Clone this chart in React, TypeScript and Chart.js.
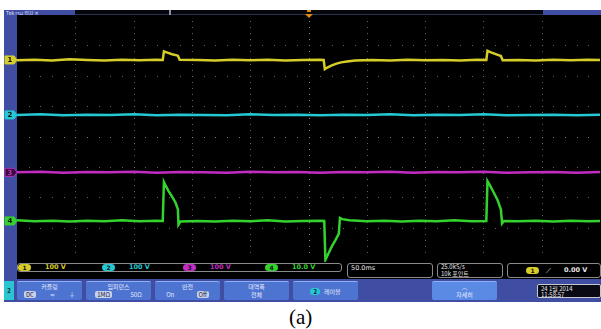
import React, { useEffect, useRef } from 'react';
import { Chart, registerables } from 'chart.js';

Chart.register(...registerables);

// ---- Data (time in divisions 0..10, voltage in divisions, centre = 0) ----
const ch1Time = [0, 0.3, 0.6, 0.9, 1.2, 1.5, 1.8, 2.1, 2.4, 2.5, 2.52, 2.58, 2.66, 2.74, 2.76, 2.79, 3.1, 3.4, 3.7, 4.0, 4.3, 4.6, 4.9, 5.2, 5.26, 5.28, 5.33, 5.4, 5.48, 5.56, 5.66, 5.8, 6.1, 6.4, 6.7, 7.0, 7.3, 7.6, 7.9, 8.05, 8.07, 8.13, 8.2, 8.27, 8.3, 8.33, 8.6, 8.9, 9.2, 9.5, 9.8, 10];
const ch1Volts = [2.51, 2.53, 2.5, 2.54, 2.52, 2.5, 2.53, 2.51, 2.53, 2.52, 2.8, 2.76, 2.71, 2.67, 2.66, 2.53, 2.52, 2.5, 2.53, 2.51, 2.53, 2.5, 2.52, 2.53, 2.52, 2.22, 2.28, 2.34, 2.4, 2.44, 2.47, 2.5, 2.52, 2.5, 2.53, 2.51, 2.52, 2.5, 2.53, 2.52, 2.82, 2.77, 2.72, 2.67, 2.65, 2.51, 2.52, 2.5, 2.53, 2.51, 2.53, 2.52];

const ch2Time = [0, 0.4, 0.8, 1.2, 1.6, 2.0, 2.4, 2.8, 3.2, 3.6, 4.0, 4.4, 4.8, 5.2, 5.6, 6.0, 6.4, 6.8, 7.2, 7.6, 8.0, 8.4, 8.8, 9.2, 9.6, 10];
const ch2Volts = [0.71, 0.73, 0.7, 0.72, 0.71, 0.73, 0.7, 0.72, 0.71, 0.7, 0.73, 0.71, 0.72, 0.7, 0.72, 0.71, 0.73, 0.7, 0.72, 0.71, 0.73, 0.7, 0.71, 0.72, 0.7, 0.72];

const ch3Time = [0, 0.4, 0.8, 1.2, 1.6, 2.0, 2.4, 2.8, 3.2, 3.6, 4.0, 4.4, 4.8, 5.2, 5.6, 6.0, 6.4, 6.8, 7.2, 7.6, 8.0, 8.4, 8.8, 9.2, 9.6, 10];
const ch3Volts = [-1.18, -1.16, -1.19, -1.17, -1.18, -1.16, -1.19, -1.17, -1.18, -1.19, -1.16, -1.18, -1.17, -1.19, -1.17, -1.18, -1.16, -1.19, -1.17, -1.18, -1.16, -1.19, -1.18, -1.17, -1.19, -1.17];

const ch4Time = [0, 0.3, 0.6, 0.9, 1.2, 1.5, 1.8, 2.1, 2.4, 2.5, 2.52, 2.55, 2.6, 2.66, 2.72, 2.76, 2.77, 2.8, 3.1, 3.4, 3.7, 4.0, 4.3, 4.6, 4.9, 5.2, 5.27, 5.29, 5.33, 5.4, 5.46, 5.52, 5.54, 5.58, 5.7, 6.0, 6.3, 6.6, 6.9, 7.2, 7.5, 7.8, 8.05, 8.07, 8.11, 8.17, 8.24, 8.3, 8.32, 8.35, 8.6, 8.9, 9.2, 9.5, 9.8, 10];
const ch4Volts = [-2.76, -2.79, -2.77, -2.8, -2.77, -2.79, -2.76, -2.79, -2.77, -2.78, -1.5, -1.62, -1.8, -1.98, -2.18, -2.4, -2.9, -2.8, -2.78, -2.8, -2.77, -2.79, -2.76, -2.8, -2.78, -2.77, -2.78, -4.06, -3.9, -3.62, -3.42, -3.2, -2.68, -2.72, -2.76, -2.79, -2.77, -2.8, -2.77, -2.79, -2.76, -2.79, -2.78, -1.47, -1.6, -1.82, -2.08, -2.4, -2.86, -2.78, -2.79, -2.77, -2.8, -2.77, -2.79, -2.78];

const channelNames = ['1', '2', '3', '4'];
const channelOffsets = [2.52, 0.71, -1.18, -2.78];
const channelColors = ['#d6cd28', '#25c8d2', '#c22cc2', '#34d22e'];
const channelScales = ['100 V', '100 V', '100 V', '10.0 V'];
const timeDivLabel = '50.0ms';
const sampleRateLabel = '25.0kS/s';
const recordLabel = '10k 포인트';
const triggerLevelLabel = '0.00 V';
const dateLabel = '24 1월 2014';
const clockLabel = '11:58:57';

const FRAME = '#3f4da3';
const BTN = '#4d74d0';
const UI_FONT = '"Noto Sans CJK KR", "DejaVu Sans", sans-serif';

// dotted oscilloscope graticule drawn from the scales' ticks
const graticulePlugin = {
  id: 'graticule',
  beforeDatasetsDraw(chart: any) {
    const ctx = chart.ctx;
    const xs = chart.scales.x;
    const ys = chart.scales.y;
    const xTicks = xs.ticks.map((t: any) => t.value);
    const yTicks = ys.ticks.map((t: any) => t.value);
    const sub = 5;
    ctx.save();
    xTicks.forEach((xv: number) => {
      if (xv === xs.min || xv === xs.max) return;
      const px = Math.round(xs.getPixelForValue(xv));
      const center = xv === (xs.min + xs.max) / 2;
      ctx.fillStyle = center ? 'rgba(170,170,150,0.85)' : 'rgba(115,115,115,0.85)';
      for (let k = 1; k < (ys.max - ys.min) * sub; k++) {
        const py = Math.round(ys.getPixelForValue(ys.min + k / sub));
        ctx.fillRect(px, py, 1, 1);
      }
    });
    yTicks.forEach((yv: number) => {
      if (yv === ys.min || yv === ys.max) return;
      const py = Math.round(ys.getPixelForValue(yv));
      const center = yv === (ys.min + ys.max) / 2;
      ctx.fillStyle = center ? 'rgba(150,150,140,0.85)' : 'rgba(115,115,115,0.85)';
      for (let k = 1; k < (xs.max - xs.min) * sub; k++) {
        const px = Math.round(xs.getPixelForValue(xs.min + k / sub));
        ctx.fillRect(px, py, 1, 1);
      }
    });
    ctx.restore();
  },
};

const tagPlugin = {
  id: 'channelTags',
  afterDraw(chart: any) {
    const ctx = chart.ctx;
    const y = chart.scales.y;
    const left = chart.chartArea.left;
    channelOffsets.forEach((off, i) => {
      const py = y.getPixelForValue(off);
      ctx.save();
      ctx.beginPath();
      ctx.moveTo(left - 12, py - 4);
      ctx.lineTo(left - 3, py - 4);
      ctx.lineTo(left, py);
      ctx.lineTo(left - 3, py + 4);
      ctx.lineTo(left - 12, py + 4);
      ctx.closePath();
      ctx.fillStyle = i === 2 ? '#3a0c3a' : channelColors[i];
      ctx.fill();
      ctx.strokeStyle = channelColors[i];
      ctx.lineWidth = 1;
      ctx.stroke();
      ctx.fillStyle = i === 2 ? channelColors[i] : '#111';
      ctx.font = 'bold 7px "DejaVu Sans"';
      ctx.textAlign = 'center';
      ctx.textBaseline = 'middle';
      ctx.fillText(channelNames[i], left - 7, py + 0.5);
      ctx.restore();
    });
  },
};

function Scope() {
  const ref = useRef<HTMLCanvasElement | null>(null);
  useEffect(() => {
    const series = [
      [ch1Time, ch1Volts],
      [ch2Time, ch2Volts],
      [ch3Time, ch3Volts],
      [ch4Time, ch4Volts],
    ];
    const chart = new Chart(ref.current as HTMLCanvasElement, {
      type: 'line',
      data: {
        datasets: series.map(([t, v], i) => ({
          data: t.map((x, k) => ({ x, y: v[k] })),
          borderColor: channelColors[i],
          borderWidth: 2.5,
          pointRadius: 0,
          tension: 0,
          clip: 6,
        })),
      },
      options: {
        animation: false,
        responsive: false,
        maintainAspectRatio: false,
        layout: { padding: { left: 13, right: 1, top: 0, bottom: 4 } },
        plugins: { legend: { display: false }, tooltip: { enabled: false } },
        scales: {
          x: {
            type: 'linear',
            min: 0,
            max: 10,
            ticks: { display: false, stepSize: 1 },
            grid: { display: false, drawTicks: false },
            border: { display: false },
          },
          y: {
            type: 'linear',
            min: -4,
            max: 4,
            ticks: { display: false, stepSize: 1 },
            grid: { display: false, drawTicks: false },
            border: { display: false },
          },
        },
      },
      plugins: [graticulePlugin, tagPlugin],
    });
    return () => chart.destroy();
  }, []);
  return (
    <canvas
      ref={ref}
      width={597}
      height={247}
      style={{ position: 'absolute', left: 4, top: 15, width: 597, height: 247 }}
    />
  );
}

const abs = (l: number, t: number, w: number, h: number, extra: any = {}) => ({
  position: 'absolute' as const,
  left: l,
  top: t,
  width: w,
  height: h,
  boxSizing: 'border-box' as const,
  ...extra,
});

function Pill({ n, color, left, top }: { n: string; color: string; left: number; top: number }) {
  return (
    <div
      style={abs(left, top, 13, 7, {
        background: color,
        borderRadius: 4,
        color: '#111',
        fontSize: 6,
        lineHeight: '7px',
        textAlign: 'center',
        fontWeight: 'bold',
        fontFamily: '"DejaVu Sans"',
      })}
    >
      {n}
    </div>
  );
}

function MenuButton({ left, width, title, children, bright }: any) {
  return (
    <div
      style={abs(left, 281, width, 19, {
        background: bright ? '#5b8ae4' : BTN,
        borderTop: '1px solid #8fb0f0',
        borderRadius: 2,
        color: '#e6eaff',
        fontSize: 6,
        lineHeight: '7px',
        textAlign: 'center',
        fontFamily: UI_FONT,
      })}
    >
      <div style={{ marginTop: 1 }}>{title}</div>
      <div style={{ display: 'flex', justifyContent: 'space-around', alignItems: 'center', marginTop: 1 }}>
        {children}
      </div>
    </div>
  );
}

const sel = {
  background: '#c9d1ea',
  color: '#1c2340',
  borderRadius: 2,
  padding: '0 2px',
  fontSize: 6,
  lineHeight: '7px',
};

export default function App() {
  const readoutX = [18, 102, 183, 265];
  return (
    <div
      style={{
        position: 'fixed',
        left: 0,
        top: 0,
        width: 601,
        height: 329,
        background: '#fff',
        overflow: 'hidden',
        fontFamily: UI_FONT,
      }}
    >
      {/* frame */}
      <div style={abs(4, 10, 597, 292, { background: FRAME })} />
      {/* top status bar */}
      <div style={abs(6, 9, 70, 7, { color: '#e0e4ff', fontSize: 5, lineHeight: '7px' })}>Tek ⊓⊔ 정지 ✕</div>
      <div style={abs(75, 10, 468, 5, { background: '#05060c', borderBottom: '1px solid #2a3050' })} />
      <div style={abs(169, 10, 2, 5, { background: '#8a90a8' })} />
      {/* plot background */}
      <div style={abs(17, 15, 584, 247, { background: '#000' })} />
      <Scope />
      {/* trigger position marker */}
      <div
        style={abs(305, 14, 8, 4, {
          background: '#e08a1a',
          clipPath: 'polygon(0 0, 100% 0, 50% 100%)',
        })}
      />
      <div style={abs(307, 10, 4, 2, { background: '#e08a1a' })} />
      {/* readout row */}
      <div style={abs(17, 262, 584, 17, { background: '#000' })} />
      <div style={abs(17, 263, 325, 9, { border: '1px solid #8a8a8a', borderRadius: 3 })} />
      {channelNames.map((n, i) => (
        <React.Fragment key={n}>
          <Pill n={n} color={channelColors[i]} left={readoutX[i]} top={264} />
          <div
            style={abs(readoutX[i] + 27, 263, 40, 9, {
              color: channelColors[i],
              fontSize: 6.5,
              lineHeight: '9px',
              fontWeight: 'bold',
              fontFamily: '"DejaVu Sans"',
            })}
          >
            {channelScales[i]}
          </div>
        </React.Fragment>
      ))}
      <div
        style={abs(347, 263, 86, 15, {
          border: '1px solid #8a8a8a',
          borderRadius: 3,
          color: '#e6e6e6',
          fontSize: 6.5,
          lineHeight: '8px',
          paddingLeft: 3,
          fontFamily: '"DejaVu Sans"',
        })}
      >
        {timeDivLabel}
      </div>
      <div
        style={abs(437, 263, 66, 15, {
          border: '1px solid #8a8a8a',
          borderRadius: 3,
          color: '#e6e6e6',
          fontSize: 6,
          lineHeight: '6.5px',
          paddingLeft: 3,
        })}
      >
        <div>{sampleRateLabel}</div>
        <div>{recordLabel}</div>
      </div>
      <div style={abs(507, 263, 94, 15, { border: '1px solid #8a8a8a', borderRadius: 3 })} />
      <Pill n="1" color={channelColors[0]} left={526} top={267} />
      <div style={abs(546, 265, 10, 10, { color: '#e6e6e6', fontSize: 7, lineHeight: '10px' })}>⟋</div>
      <div
        style={abs(564, 265, 36, 10, {
          color: '#e6e6e6',
          fontSize: 6.5,
          lineHeight: '10px',
          fontWeight: 'bold',
          fontFamily: '"DejaVu Sans"',
        })}
      >
        {triggerLevelLabel}
      </div>
      {/* menu row */}
      <div
        style={abs(4, 281, 10, 19, {
          background: '#29c5d0',
          color: '#0c2a40',
          fontSize: 6,
          lineHeight: '19px',
          textAlign: 'center',
          fontWeight: 'bold',
        })}
      >
        2
      </div>
      <MenuButton left={17} width={65} title="커플링">
        <span style={sel}>DC</span>
        <span>≂</span>
        <span>⏚</span>
      </MenuButton>
      <MenuButton left={86} width={65} title="임피던스">
        <span style={sel}>1MΩ</span>
        <span>50Ω</span>
      </MenuButton>
      <MenuButton left={155} width={65} title="반전">
        <span>On</span>
        <span style={sel}>Off</span>
      </MenuButton>
      <MenuButton left={224} width={65} title="대역폭">
        <span>전체</span>
      </MenuButton>
      <div
        style={abs(293, 281, 65, 19, {
          background: BTN,
          borderTop: '1px solid #8fb0f0',
          borderRadius: 2,
          color: '#e6eaff',
          fontSize: 6,
          lineHeight: '19px',
          display: 'flex',
          alignItems: 'center',
          justifyContent: 'center',
          gap: 4,
        })}
      >
        <span
          style={{
            background: channelColors[1],
            color: '#113',
            borderRadius: 4,
            padding: '0 3px',
            lineHeight: '7px',
            fontWeight: 'bold',
          }}
        >
          2
        </span>
        <span>레이블</span>
      </div>
      <MenuButton left={432} width={65} title="︿" bright>
        <span>자세히</span>
      </MenuButton>
      <div
        style={abs(537, 284, 64, 14, {
          background: '#0a0a14',
          border: '1px solid #c8c8d0',
          borderRadius: 2,
          color: '#e8e8e8',
          fontSize: 6,
          lineHeight: '6px',
          paddingLeft: 3,
          paddingTop: 1,
        })}
      >
        <div>{dateLabel}</div>
        <div>{clockLabel}</div>
      </div>
      {/* caption */}
      <div
        style={abs(289, 305, 40, 24, {
          fontFamily: '"Liberation Serif", "Times New Roman", serif',
          fontSize: 21,
          lineHeight: '24px',
          color: '#000',
        })}
      >
        (a)
      </div>
    </div>
  );
}
